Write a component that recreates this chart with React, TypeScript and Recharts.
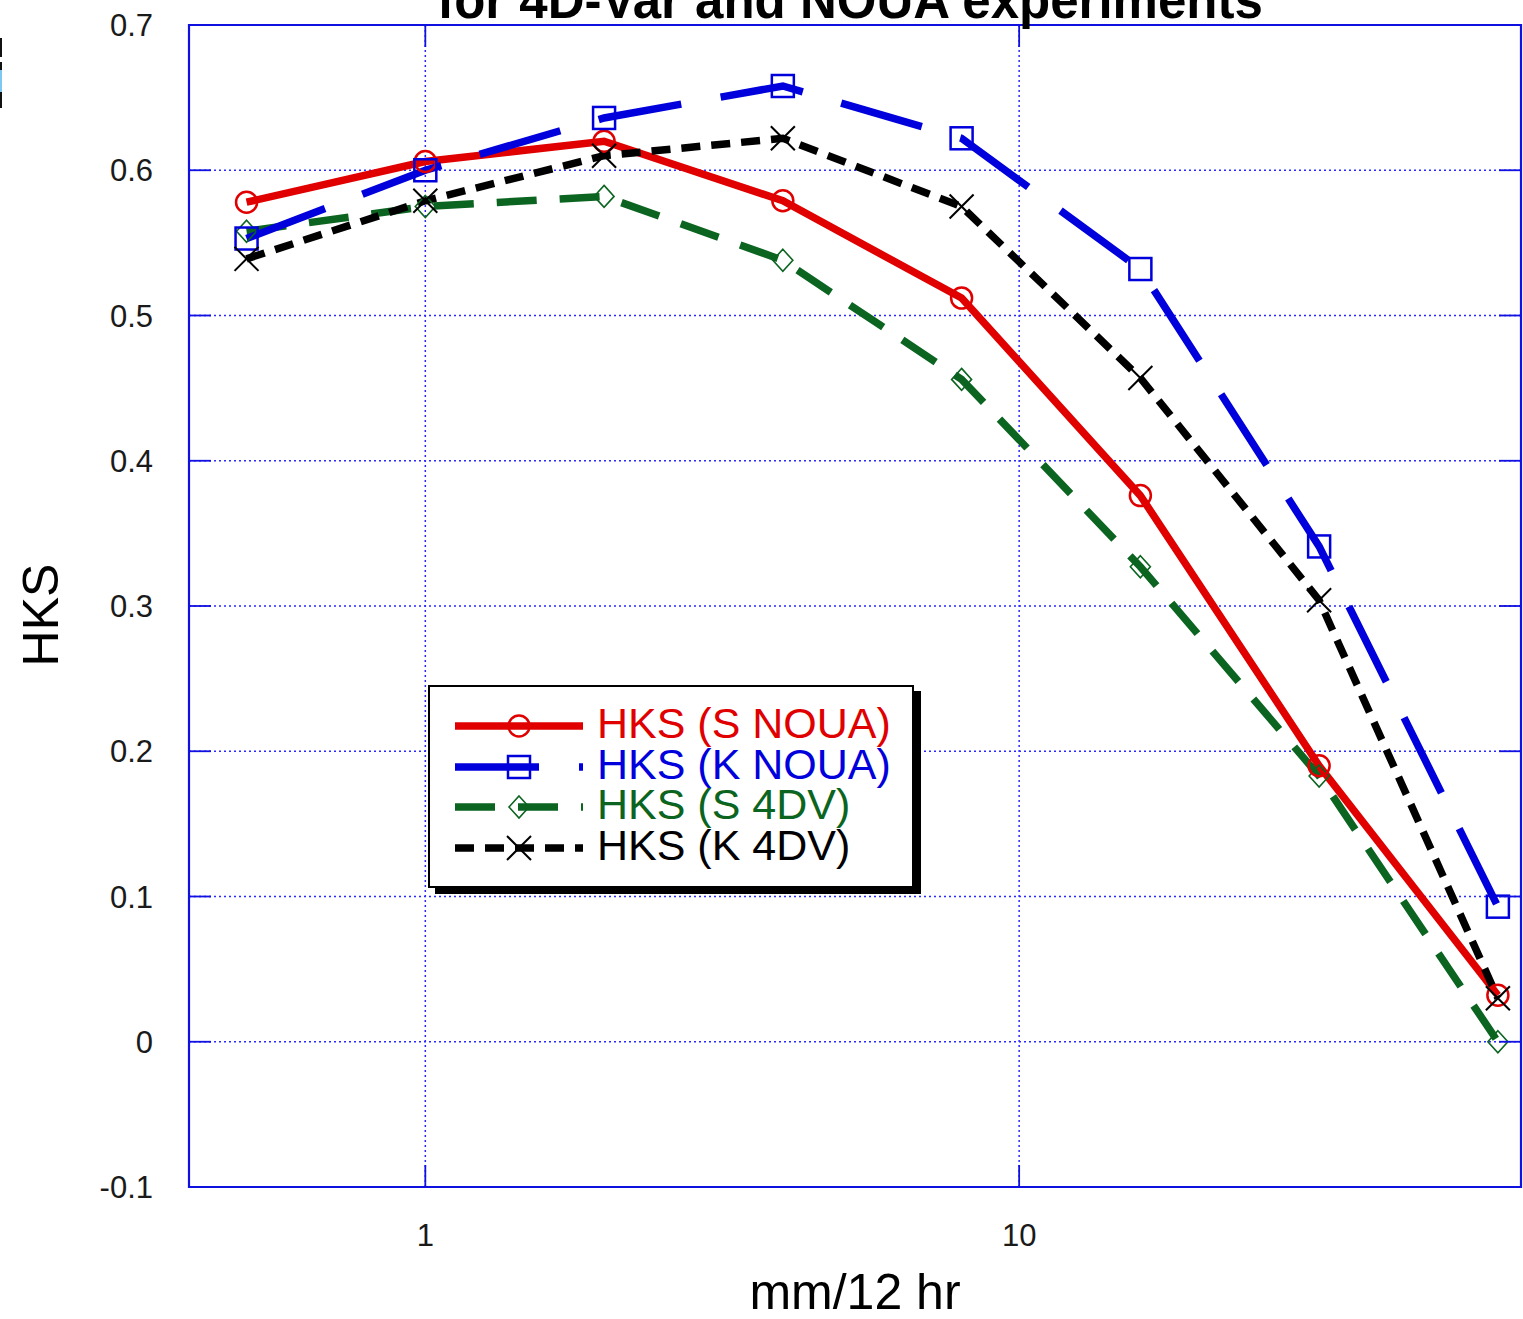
import React from 'react';
import {
  LineChart,
  Line,
  XAxis,
  YAxis,
  CartesianGrid,
  ReferenceArea,
  Legend,
  Label,
} from 'recharts';

// ---------------- data ----------------
const thresholds = [0.5, 1, 2, 4, 8, 16, 32, 64];
const hksSNoua = [0.578, 0.606, 0.620, 0.579, 0.512, 0.376, 0.190, 0.032];
const hksKNoua = [0.553, 0.600, 0.636, 0.658, 0.622, 0.532, 0.341, 0.093];
const hksS4dv = [0.558, 0.575, 0.582, 0.538, 0.456, 0.327, 0.183, 0.000];
const hksK4dv = [0.539, 0.579, 0.610, 0.622, 0.575, 0.457, 0.304, 0.030];

const xTicks = [1, 10];
const yTicks = [-0.1, 0, 0.1, 0.2, 0.3, 0.4, 0.5, 0.6, 0.7];
const seriesNames = ['HKS (S NOUA)', 'HKS (K NOUA)', 'HKS (S 4DV)', 'HKS (K 4DV)'];
const titleText = 'for 4D-Var and NOUA experiments';
const xLabelText = 'mm/12 hr';
const yLabelText = 'HKS';

const data = thresholds.map((t, i) => ({
  x: t,
  sNoua: hksSNoua[i],
  kNoua: hksKNoua[i],
  s4dv: hksS4dv[i],
  k4dv: hksK4dv[i],
}));

// ---------------- styles ----------------
const W = 1523;
const H = 1319;
const PLOT = { left: 189, top: 25, right: 1521, bottom: 1187 };
const FONT = '"Liberation Sans", Arial, Helvetica, sans-serif';
const AXIS_BLUE = '#1010e0';
const GRID_BLUE = '#2a2aff';
const RED = '#e00000';
const BLUE = '#0000dd';
const GREEN = '#0b6420';
const BLACK = '#000000';

type MarkerKind = 'circle' | 'square' | 'diamond' | 'cross';

const Marker = ({ kind, cx, cy, color }: { kind: MarkerKind; cx: number; cy: number; color: string }) => {
  if (cx == null || cy == null || isNaN(cx) || isNaN(cy)) return null;
  if (kind === 'circle') {
    return <circle cx={cx} cy={cy} r={10.5} fill="none" stroke={color} strokeWidth={2.5} />;
  }
  if (kind === 'square') {
    return <rect x={cx - 11} y={cy - 11} width={22} height={22} fill="none" stroke={color} strokeWidth={2.5} />;
  }
  if (kind === 'diamond') {
    return (
      <polygon
        points={`${cx},${cy - 11} ${cx + 10},${cy} ${cx},${cy + 11} ${cx - 10},${cy}`}
        fill="none"
        stroke={color}
        strokeWidth={1.6}
      />
    );
  }
  return (
    <g stroke={color} strokeWidth={2}>
      <line x1={cx - 12} y1={cy - 12} x2={cx + 12} y2={cy + 12} />
      <line x1={cx - 12} y1={cy + 12} x2={cx + 12} y2={cy - 12} />
    </g>
  );
};

const series = [
  { key: 'sNoua', name: seriesNames[0], color: RED, dash: undefined as string | undefined, width: 7.5, marker: 'circle' as MarkerKind },
  { key: 'kNoua', name: seriesNames[1], color: BLUE, dash: '84 40', width: 7.5, marker: 'square' as MarkerKind },
  { key: 's4dv', name: seriesNames[2], color: GREEN, dash: '40 23', width: 7.5, marker: 'diamond' as MarkerKind },
  { key: 'k4dv', name: seriesNames[3], color: BLACK, dash: '19 11', width: 7.5, marker: 'cross' as MarkerKind },
];

// drawing order: green, red, blue, black
const drawOrder = [2, 0, 1, 3];

const fmtY = (v: number) => (Math.abs(v) < 1e-9 ? '0' : v.toFixed(1));

const YTick = (props: any) => {
  const { y, payload } = props;
  return (
    <g>
      <text x={153} y={y} dy="0.36em" textAnchor="end" fontSize={31} fontFamily={FONT} fill="#1a1a1a">
        {fmtY(payload.value)}
      </text>
      <line x1={PLOT.left} x2={PLOT.left + 22} y1={y} y2={y} stroke={AXIS_BLUE} strokeWidth={1.8} />
      <line x1={PLOT.right - 22} x2={PLOT.right} y1={y} y2={y} stroke={AXIS_BLUE} strokeWidth={1.8} />
    </g>
  );
};

const XTick = (props: any) => {
  const { x, payload } = props;
  return (
    <g>
      <text x={x} y={1224} dy="0.71em" textAnchor="middle" fontSize={31} fontFamily={FONT} fill="#1a1a1a">
        {String(payload.value)}
      </text>
      <line x1={x} x2={x} y1={PLOT.bottom} y2={PLOT.bottom - 22} stroke={AXIS_BLUE} strokeWidth={1.8} />
      <line x1={x} x2={x} y1={PLOT.top} y2={PLOT.top + 22} stroke={AXIS_BLUE} strokeWidth={1.8} />
    </g>
  );
};

const LegendBox = () => {
  const rowY = [41, 82, 122, 163];
  return (
    <svg width={500} height={215} style={{ display: 'block', overflow: 'visible' }}>
      <rect x={7} y={6} width={486} height={203} fill="#000" />
      <rect x={1} y={1} width={484} height={201} fill="#fff" stroke="#000" strokeWidth={2} />
      {series.map((s, i) => (
        <g key={s.key}>
          <line
            x1={27}
            x2={155}
            y1={rowY[i]}
            y2={rowY[i]}
            stroke={s.color}
            strokeWidth={s.width}
            strokeDasharray={s.dash}
          />
          <Marker kind={s.marker} cx={91} cy={rowY[i]} color={s.color} />
          <text x={169} y={rowY[i] + 12} fontSize={43} fontFamily={FONT} fill={s.color}>
            {s.name}
          </text>
        </g>
      ))}
    </svg>
  );
};

const TitleLabel = () => (
  <g>
    <text x={850} y={18} textAnchor="middle" fontSize={51} fontWeight="bold" fontFamily={FONT} fill="#000">
      {titleText}
    </text>
    {/* thin strip at the left page edge, as in the source image */}
    <rect x={0} y={38} width={2} height={19} fill="#111" />
    <rect x={0} y={62} width={2} height={8} fill="#111" />
    <rect x={0} y={70} width={2} height={22} fill="#7cc8f0" />
    <rect x={0} y={92} width={2} height={16} fill="#111" />
  </g>
);

const XLabel = () => (
  <text x={855} y={1309} textAnchor="middle" fontSize={50} fontFamily={FONT} fill="#000">
    {xLabelText}
  </text>
);

const YLabel = () => (
  <text
    x={58}
    y={615}
    textAnchor="middle"
    fontSize={50}
    fontFamily={FONT}
    fill="#000"
    transform="rotate(-90, 58, 615)"
  >
    {yLabelText}
  </text>
);

export default function App() {
  return (
    <div style={{ position: 'absolute', left: 0, top: 0, width: W, height: H, overflow: 'hidden', background: '#fff' }}>
      <LineChart
        width={W}
        height={H}
        data={data}
        margin={{ top: PLOT.top, right: W - PLOT.right, bottom: 0, left: 0 }}
        style={{ background: '#fff' }}
      >
        <CartesianGrid stroke={GRID_BLUE} strokeDasharray="2 3" strokeWidth={1.5} />
        <XAxis
          dataKey="x"
          type="number"
          scale="log"
          domain={[0.4, 70]}
          ticks={xTicks}
          allowDataOverflow
          height={H - PLOT.bottom}
          axisLine={false}
          tickLine={false}
          tick={<XTick />}
          interval={0}
        >
          <Label content={<XLabel />} />
          <Label content={<TitleLabel />} />
        </XAxis>
        <YAxis
          type="number"
          domain={[-0.1, 0.7]}
          ticks={yTicks}
          allowDataOverflow
          width={PLOT.left}
          axisLine={false}
          tickLine={false}
          tick={<YTick />}
          interval={0}
        >
          <Label content={<YLabel />} />
        </YAxis>
        <ReferenceArea
          x1={0.4}
          x2={70}
          y1={-0.1}
          y2={0.7}
          fill="none"
          fillOpacity={0}
          stroke={AXIS_BLUE}
          strokeWidth={2.2}
          ifOverflow="visible"
        />
        {drawOrder.map((idx) => {
          const s = series[idx];
          return (
            <Line
              key={s.key}
              dataKey={s.key}
              name={s.name}
              type="linear"
              stroke={s.color}
              strokeWidth={s.width}
              strokeDasharray={s.dash}
              isAnimationActive={false}
              activeDot={false}
              dot={(p: any) => (
                <Marker key={`${s.key}-${p.index}`} kind={s.marker} cx={p.cx} cy={p.cy} color={s.color} />
              )}
            />
          );
        })}
        <Legend
          layout="horizontal"
          verticalAlign="middle"
          align="center"
          content={<LegendBox />}
          wrapperStyle={{ position: 'absolute', left: 428, top: 685, width: 500, height: 215, margin: 0, padding: 0 }}
        />
      </LineChart>
    </div>
  );
}
